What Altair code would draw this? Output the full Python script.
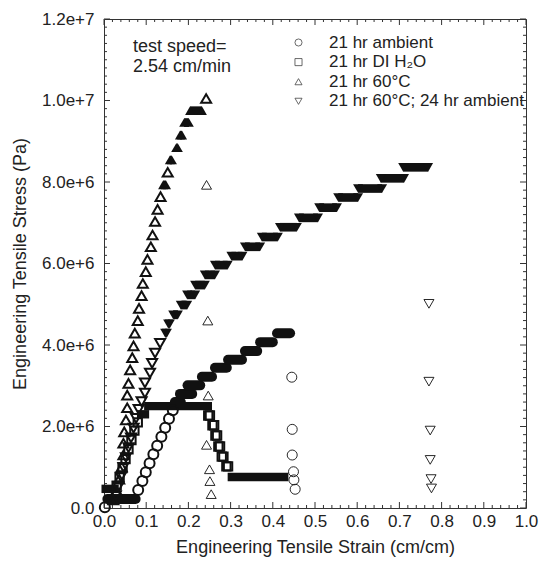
import altair as alt
import pandas as pd

# ---------------- data (strain in cm/cm, stress in 1e6 Pa) ----------------
SERIES = ["21 hr ambient", "21 hr DI H₂O", "21 hr 60°C", "21 hr 60°C; 24 hr ambient"]
SHAPES = ["circle", "square", "triangle-up", "triangle-down"]

# 21 hr ambient (circles)
amb_load_x = [0.002, 0.081, 0.091, 0.099, 0.108, 0.117, 0.126, 0.136, 0.145, 0.154, 0.163]
amb_load_y = [0.02, 0.44, 0.66, 0.88, 1.10, 1.32, 1.53, 1.75, 1.97, 2.19, 2.40]
amb_band_y = [0.22, 2.60, 2.80, 3.01, 3.22, 3.44, 3.64, 3.85, 4.07, 4.29]
amb_band_x0 = [0.008, 0.168, 0.180, 0.198, 0.232, 0.263, 0.294, 0.334, 0.370, 0.410]
amb_band_x1 = [0.075, 0.182, 0.209, 0.228, 0.256, 0.291, 0.327, 0.363, 0.400, 0.441]
amb_break_x = [0.445, 0.446, 0.446, 0.449, 0.450, 0.453]
amb_break_y = [3.21, 1.93, 1.30, 0.89, 0.69, 0.46]

# 21 hr DI H2O (squares)
di_load_x = [0.030, 0.037, 0.044, 0.051, 0.058, 0.065, 0.072, 0.080,
             0.247, 0.251, 0.257, 0.261, 0.264, 0.268, 0.271, 0.275, 0.279, 0.283, 0.290, 0.294]
di_load_y = [0.55, 0.75, 0.98, 1.20, 1.44, 1.67, 1.90, 2.10,
             2.27, 2.27, 2.03, 2.03, 1.78, 1.78, 1.51, 1.51, 1.26, 1.26, 1.02, 1.02]
di_band_y = [0.47, 2.30, 2.50, 0.76]
di_band_x0 = [0.004, 0.088, 0.105, 0.303]
di_band_x1 = [0.025, 0.097, 0.246, 0.427]

# 21 hr 60 C (triangle up)
hot_load_x = [0.022, 0.030, 0.036, 0.042, 0.046, 0.046, 0.048, 0.052, 0.055, 0.055, 0.058,
              0.062, 0.067, 0.070, 0.073, 0.080, 0.083, 0.089, 0.092, 0.099, 0.103, 0.111,
              0.115, 0.121, 0.127, 0.134, 0.151, 0.242]
hot_load_y = [0.20, 0.42, 0.71, 1.01, 1.30, 1.59, 1.87, 2.16, 2.46, 2.77, 3.06,
              3.39, 3.69, 3.98, 4.29, 4.60, 4.90, 5.21, 5.51, 5.80, 6.10, 6.41,
              6.70, 7.03, 7.33, 7.64, 8.24, 10.05]
hot_band_y = [7.93, 8.54, 8.84, 9.15, 9.46, 9.75]
hot_band_x0 = [0.140, 0.156, 0.171, 0.180, 0.190, 0.204]
hot_band_x1 = [0.147, 0.161, 0.175, 0.185, 0.201, 0.232]
hot_break_x = [0.243, 0.246, 0.247, 0.243, 0.250, 0.251, 0.254]
hot_break_y = [7.93, 4.60, 2.76, 1.55, 0.95, 0.66, 0.34]

# 21 hr 60 C; 24 hr ambient (triangle down)
rec_load_x = [0.028, 0.034, 0.040, 0.046, 0.052, 0.058, 0.064, 0.070, 0.076, 0.082,
              0.089, 0.097, 0.097, 0.109, 0.114, 0.121, 0.133]
rec_load_y = [0.30, 0.52, 0.76, 1.00, 1.24, 1.48, 1.72, 1.96, 2.20, 2.42,
              2.61, 2.82, 3.07, 3.31, 3.55, 3.80, 4.04]
rec_band_y = [4.29, 4.52, 4.74, 4.98, 5.23, 5.47, 5.72, 5.96, 6.18, 6.41, 6.65,
              6.89, 7.12, 7.37, 7.62, 7.84, 8.09, 8.36]
rec_band_x0 = [0.145, 0.152, 0.164, 0.182, 0.197, 0.216, 0.239, 0.263, 0.302, 0.334, 0.374,
               0.417, 0.462, 0.510, 0.555, 0.602, 0.656, 0.709]
rec_band_x1 = [0.149, 0.156, 0.175, 0.197, 0.216, 0.239, 0.263, 0.293, 0.328, 0.370, 0.412,
               0.457, 0.507, 0.552, 0.602, 0.659, 0.711, 0.768]
rec_break_x = [0.770, 0.770, 0.773, 0.773, 0.775, 0.776]
rec_break_y = [5.01, 3.10, 1.90, 1.18, 0.71, 0.48]

x_major = [0.0, 0.1, 0.2, 0.3, 0.4, 0.5, 0.6, 0.7, 0.8, 0.9, 1.0]
y_major = [0, 2, 4, 6, 8, 10, 12]
note = "test speed=\n2.54 cm/min"

# ---------------- tables ----------------
def pts(series, xs_, ys_, phase):
    return pd.DataFrame({"x": xs_, "y": ys_, "series": series, "phase": phase})

points = pd.concat([
    pts(SERIES[0], amb_load_x, amb_load_y, "loading"),
    pts(SERIES[0], amb_break_x, amb_break_y, "fracture"),
    pts(SERIES[1], di_load_x, di_load_y, "loading"),
    pts(SERIES[2], hot_load_x, hot_load_y, "loading"),
    pts(SERIES[2], hot_break_x, hot_break_y, "fracture"),
    pts(SERIES[3], rec_load_x, rec_load_y, "loading"),
    pts(SERIES[3], rec_break_x, rec_break_y, "fracture"),
], ignore_index=True)

def bands(ys_, x0, x1):
    return pd.DataFrame({"y": ys_, "x0": x0, "x1": x1})

amb_b = bands(amb_band_y, amb_band_x0, amb_band_x1)
di_b = bands(di_band_y, di_band_x0, di_band_x1)
hot_b = bands(hot_band_y, hot_band_x0, hot_band_x1)
rec_b = bands(rec_band_y, rec_band_x0, rec_band_x1)

x_minor = [i / 50 for i in range(51) if i % 5]
y_minor = [i / 5 for i in range(61) if i % 10]

# ---------------- styling ----------------
W, H = 422, 489
FONT = "Liberation Sans, Arial, Helvetica, sans-serif"
INK = "#111111"
TXT = "#222222"
xs = alt.Scale(domain=[0, 1], nice=False, zero=False)
ys = alt.Scale(domain=[0, 12], nice=False, zero=False)

xaxis = alt.Axis(values=x_major, labelExpr="format(datum.value, '.1f')",
                 ticks=False, domain=False, grid=False, labelFlush=False, labelOverlap=False,
                 labelFontSize=17, labelPadding=5, labelColor=TXT, labelFont=FONT,
                 title="Engineering Tensile Strain (cm/cm)", titleFontSize=18,
                 titleFontWeight="normal", titlePadding=9, titleColor=TXT, titleFont=FONT)
yaxis = alt.Axis(values=y_major,
                 labelExpr="datum.value == 0 ? '0.0' : format(datum.value * 1e6, '.1e')",
                 ticks=False, domain=False, grid=False, labelFlush=False, labelOverlap=False,
                 labelFontSize=17, labelPadding=10, labelColor=TXT, labelFont=FONT,
                 title="Engineering Tensile Stress (Pa)", titleFontSize=18,
                 titleFontWeight="normal", titleColor=TXT, titleFont=FONT,
                 titleX=-84, titleY=H / 2, titleAngle=270, titleBaseline="middle",
                 titleAlign="center")

def X(f):
    return alt.X(f, scale=xs, axis=xaxis)

def Y(f):
    return alt.Y(f, scale=ys, axis=yaxis)

layers = []

# tick marks (inward) on all four sides
def xticks(vals, length):
    d = pd.DataFrame({"t": vals})
    b = alt.Chart(d).mark_rule(color="#333", strokeWidth=1).encode(
        x=X("t:Q"), y=alt.value(H), y2=alt.value(H - length))
    t = alt.Chart(d).mark_rule(color="#333", strokeWidth=1).encode(
        x=X("t:Q"), y=alt.value(0), y2=alt.value(length))
    return [b, t]

def yticks(vals, length):
    d = pd.DataFrame({"t": vals})
    l = alt.Chart(d).mark_rule(color="#333", strokeWidth=1).encode(
        y=Y("t:Q"), x=alt.value(0), x2=alt.value(length))
    r = alt.Chart(d).mark_rule(color="#333", strokeWidth=1).encode(
        y=Y("t:Q"), x=alt.value(W), x2=alt.value(W - length))
    return [l, r]

layers += xticks(x_major, 6) + xticks(x_minor, 3) + yticks(y_major, 6) + yticks(y_minor, 3)

# dense bands of overlapping markers
layers.append(alt.Chart(amb_b).mark_rule(color=INK, strokeWidth=10, strokeCap="round").encode(
    x=X("x0:Q"), x2="x1:Q", y=Y("y:Q")))
layers.append(alt.Chart(di_b).mark_rule(color=INK, strokeWidth=8.4, strokeCap="square").encode(
    x=X("x0:Q"), x2="x1:Q", y=Y("y:Q")))
for dfb, shp in [(hot_b, "triangle-up"), (rec_b, "triangle-down")]:
    layers.append(alt.Chart(dfb).mark_rule(color=INK, strokeWidth=8.66, strokeCap="butt").encode(
        x=X("x0:Q"), x2="x1:Q", y=Y("y:Q")))
    layers.append(alt.Chart(dfb).transform_fold(["x0", "x1"], as_=["end", "xe"]).mark_point(
        shape=shp, filled=True, size=100, color=INK, opacity=1).encode(
        x=X("xe:Q"), y=Y("y:Q")))

# individual open markers (these also carry the legend)
layers.append(alt.Chart(points).mark_point(filled=False, color=INK, opacity=1).encode(
    x=X("x:Q"), y=Y("y:Q"),
    shape=alt.Shape("series:N", scale=alt.Scale(domain=SERIES, range=SHAPES),
                    legend=alt.Legend(title=None, orient="none", legendX=186, legendY=15,
                                      labelFontSize=17, labelFont=FONT, labelColor=TXT,
                                      symbolSize=50, symbolStrokeWidth=0.8,
                                      symbolStrokeColor="#444", symbolFillColor="transparent",
                                      labelOffset=22, rowPadding=1.6, padding=0,
                                      labelLimit=400)),
    size=alt.condition("datum.series == '21 hr DI H₂O'", alt.value(70), alt.value(100)),
    strokeWidth=alt.condition("datum.phase == 'fracture'", alt.value(0.9), alt.value(2.0)),
))

# annotation
layers.append(alt.Chart(pd.DataFrame({"txt": [note]})).mark_text(
    align="left", baseline="alphabetic", fontSize=18, font=FONT, color=TXT,
    lineBreak="\n", lineHeight=20).encode(
    x=alt.value(29), y=alt.value(33), text="txt:N"))

chart = alt.layer(*layers).properties(
    width=W, height=H,
    autosize=alt.AutoSizeParams(type="none"),
    padding={"left": 104, "top": 19, "right": 14, "bottom": 59},
    background="white",
).configure_view(stroke="#333", strokeWidth=1)

chart.save("out.html", embed_options={"renderer": "svg", "actions": False})
